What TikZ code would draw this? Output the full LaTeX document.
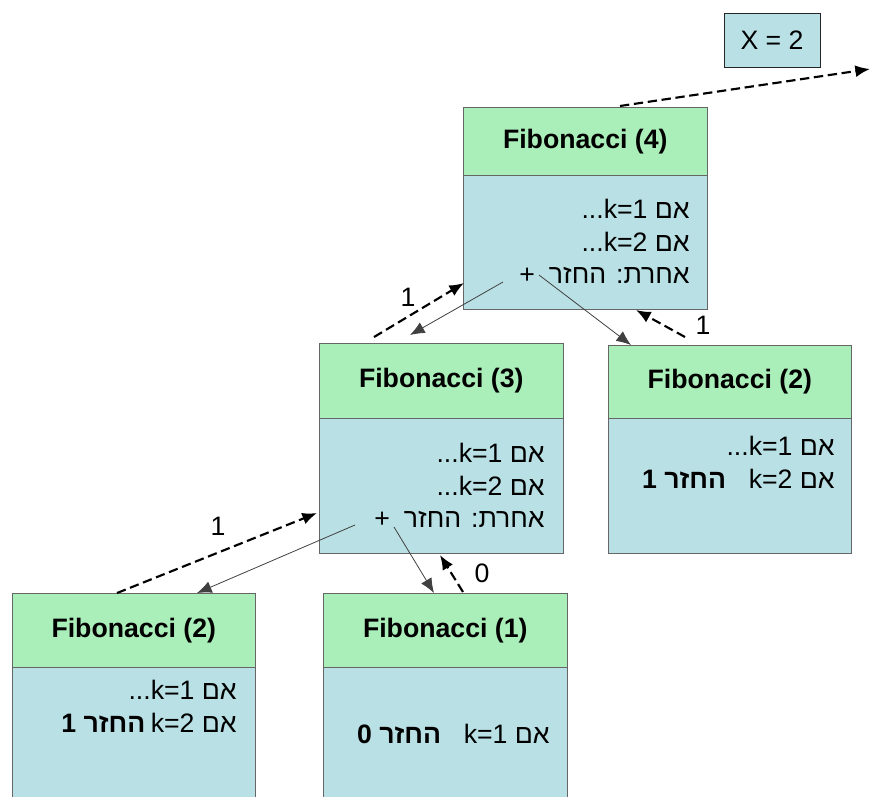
\documentclass[tikz,border=0pt]{standalone}
\usepackage{fontspec}
\setmainfont{Liberation Sans}
\newfontfamily\hebfont[Script=Hebrew]{Liberation Sans}
\TeXXeTstate=1
\usetikzlibrary{arrows.meta}
\definecolor{headgreen}{RGB}{170,238,185}
\definecolor{bodyblue}{RGB}{185,224,228}
\newcommand{\hebline}[1]{\beginR#1\endR}

\begin{document}
\begin{tikzpicture}[x=0.75pt,y=0.75pt,yscale=-1,xscale=1,
  head/.style={draw=black!60, fill=headgreen, anchor=north west, inner sep=0pt, minimum width=183pt, font=\bfseries\fontsize{20}{24}\selectfont},
  body/.style={draw=black!60, fill=bodyblue, anchor=north west, inner sep=0pt, minimum width=183pt},
  bodytext/.style={anchor=north east, inner sep=0pt, align=right, font=\hebfont\fontsize{20}{24.4}\selectfont},
  callarrow/.style={draw=black!75, line width=0.6pt, -{Latex[length=11pt,width=9pt]}},
  retarrow/.style={line width=1.6pt, dash pattern=on 7pt off 3.5pt, -{Latex[length=11pt,width=9pt]}},
  retlabel/.style={inner sep=0pt, font=\fontsize{20}{24}\selectfont}]
\clip (0,0) rectangle (870,796);

%Box: X = 2
\node (xbox) at (772,40) [draw=black!85, fill=bodyblue, minimum width=72pt, minimum height=40.5pt, inner sep=0pt, font=\fontsize{20}{24}\selectfont] {X = 2};

%Box: Fibonacci (4)
\node (fibfourhead) at (463,107) [head, minimum height=51pt] {Fibonacci (4)};
\node (fibfourbody) at (463,175) [body, minimum height=100.5pt] {};
\node (fibfourtext) at (690,199) [bodytext] {\hebline{אם \beginL k=1\endL...}\\ \hebline{אם \beginL k=2\endL...}\\ \hebline{אחרת: החזר\hspace{5pt} +}};

%Box: Fibonacci (3)
\node (fibthreehead) at (319,343) [head, minimum height=56.25pt] {Fibonacci (3)};
\node (fibthreebody) at (319,418) [body, minimum height=101.25pt] {};
\node (fibthreetext) at (545,443) [bodytext] {\hebline{אם \beginL k=1\endL...}\\ \hebline{אם \beginL k=2\endL...}\\ \hebline{אחרת: החזר\hspace{5pt} +}};

%Box: Fibonacci (2), right
\node (fibtworhead) at (608,345) [head, minimum width=182.25pt, minimum height=54.75pt] {Fibonacci (2)};
\node (fibtworbody) at (608,418) [body, minimum width=182.25pt, minimum height=101.25pt] {};
\node (fibtwortext) at (835,436) [bodytext] {\hebline{אם \beginL k=1\endL...}\\ \hebline{אם \beginL k=2\endL\hspace{17pt}\textbf{החזר 1}}};

%Box: Fibonacci (2), left
\node (fibtwolhead) at (12,593) [head, minimum width=182.25pt, minimum height=55.5pt] {Fibonacci (2)};
\node (fibtwolbody) at (12,667) [body, minimum width=182.25pt, minimum height=110pt] {};
\node (fibtwoltext) at (237,680) [bodytext] {\hebline{אם \beginL k=1\endL...}\\ \hebline{אם \beginL k=2\endL\hspace{4pt}\textbf{החזר 1}}};

%Box: Fibonacci (1)
\node (fibonehead) at (323,593) [head, minimum height=55.5pt] {Fibonacci (1)};
\node (fibonebody) at (323,667) [body, minimum height=110pt] {};
\node (fibonetext) at (550,724) [bodytext] {\hebline{אם \beginL k=1\endL\hspace{17pt}\textbf{החזר 0}}};

%Arrow ends
\coordinate (topout) at (620,106);
\coordinate (offpage) at (870,69);
\coordinate (fourleft) at (503,282);
\coordinate (fourright) at (539,275);
\coordinate (threein) at (410,335);
\coordinate (twoin) at (631,345);
\coordinate (threeup) at (374,337);
\coordinate (fourback) at (464,283);
\coordinate (twoup) at (685,337);
\coordinate (fourbottom) at (636,310);
\coordinate (threeleft) at (355,525);
\coordinate (threeright) at (394,527);
\coordinate (twolin) at (197,593);
\coordinate (onein) at (434,593);
\coordinate (twolup) at (117,593);
\coordinate (threeback) at (317,513);
\coordinate (oneup) at (463,592);
\coordinate (threebottom) at (440,555);

%Calls
\draw[callarrow] (fourleft) -- (threein);
\draw[callarrow] (fourright) -- (twoin);
\draw[callarrow] (threeleft) -- (twolin);
\draw[callarrow] (threeright) -- (onein);

%Returned values
\draw[retarrow] (topout) -- (offpage);
\draw[retarrow] (threeup) -- (fourback);
\draw[retarrow] (twoup) -- (fourbottom);
\draw[retarrow] (twolup) -- (threeback);
\draw[retarrow] (oneup) -- (threebottom);

% Text Node
\node (valfour) at (408,297) [retlabel] {1};
\node (valtwor) at (703,325) [retlabel] {1};
\node (valtwol) at (218,526) [retlabel] {1};
\node (valone) at (482,573) [retlabel] {0};

\end{tikzpicture}
\end{document}
